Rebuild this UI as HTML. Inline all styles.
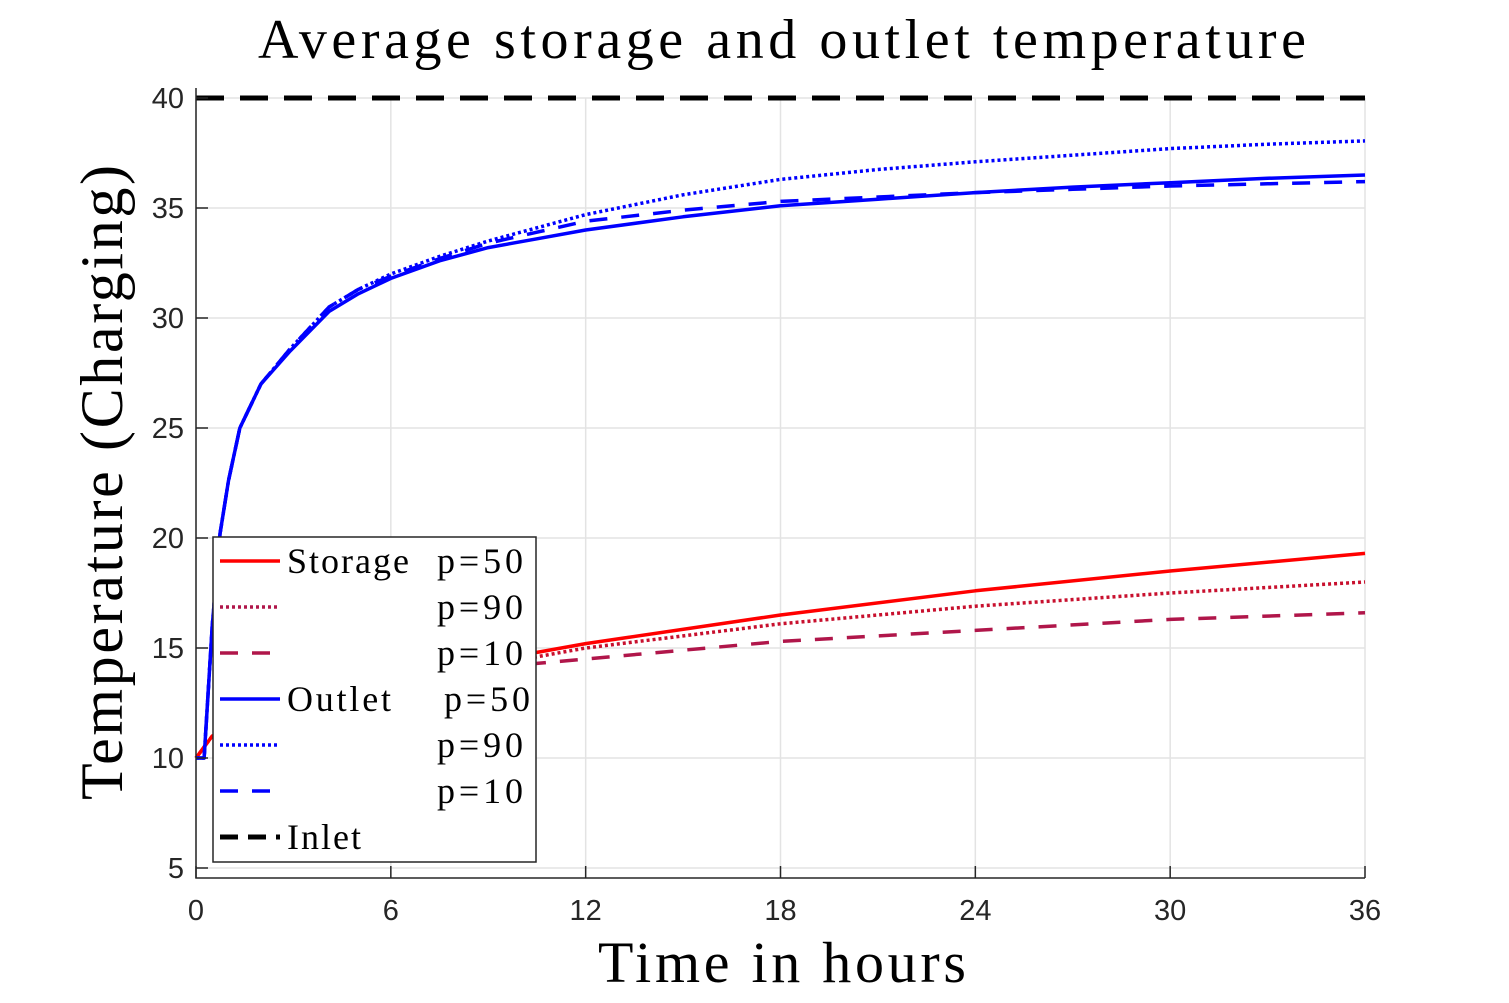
<!DOCTYPE html>
<html><head><meta charset="utf-8"><style>
body{margin:0;background:#fff}
svg{display:block}
.tk{font-family:"Liberation Sans",sans-serif;font-size:29px;fill:#262626}
.sf{font-family:"Liberation Serif",serif;fill:#000}
</style></head><body>
<svg id="chart" width="1509" height="1003">
<g id="grid"></g><g id="series"></g><g id="axes"></g><g id="legend"></g>
<text class="sf" x="258" y="58" font-size="56" textLength="1048" lengthAdjust="spacing">Average storage and outlet temperature</text>
<text class="sf" x="598" y="982" font-size="58" textLength="368" lengthAdjust="spacing">Time in hours</text>
<text class="sf" transform="translate(122,800) rotate(-90)" font-size="60" textLength="635" lengthAdjust="spacing">Temperature (Charging)</text>
</svg>
<script>
const xTicks=[0,6,12,18,24,30,36];
const yTicks=[5,10,15,20,25,30,35,40];
const tOut=[0,0.25,0.5,0.74,1.0,1.35,2,2.9,4.1,5,6,7.5,9,10.5,12,15,18,21,24,27,30,33,36];
const outP50=[10,10,16,20.2,22.6,25.0,27.0,28.5,30.3,31.1,31.8,32.6,33.2,33.6,34.0,34.6,35.1,35.4,35.7,35.95,36.15,36.35,36.5];
const outP90=[10,10,16,20.2,22.6,25.0,27.0,28.6,30.5,31.3,32.0,32.8,33.5,34.1,34.7,35.6,36.3,36.75,37.1,37.4,37.7,37.9,38.05];
const outP10=[10,10,16,20.2,22.6,25.0,27.0,28.6,30.5,31.3,31.9,32.7,33.4,33.9,34.4,34.9,35.3,35.5,35.7,35.85,36.0,36.1,36.2];
const tSto=[0,0.5,2,4,7,10.5,12,18,24,30,36];
const stoP50=[10,11,12,12.9,13.8,14.8,15.2,16.5,17.6,18.5,19.3];
const stoP90=[10,11,12,12.9,13.8,14.6,15.0,16.1,16.9,17.5,18.0];
const stoP10=[10,11,11.9,12.6,13.4,14.3,14.5,15.3,15.8,16.3,16.6];
const inletVal=40;
const X=t=>196+t*(1365-196)/36;
const Y=v=>98+(40-v)*22;
const NS="http://www.w3.org/2000/svg";
function mk(tag,attrs,parent){const e=document.createElementNS(NS,tag);for(const k in attrs)e.setAttribute(k,attrs[k]);parent.appendChild(e);return e;}
const grid=document.getElementById('grid'),axes=document.getElementById('axes'),ser=document.getElementById('series'),leg=document.getElementById('legend');
xTicks.forEach(t=>{
 const l=mk('line',{x1:X(t),x2:X(t),y1:98,y2:878,stroke:'#e3e3e3','stroke-width':1.5},grid);
 
 
 const tk=mk('line',{x1:X(t),x2:X(t),y1:878,y2:866,stroke:'#262626','stroke-width':1.5},axes);
 
 
 const tx=mk('text',{x:X(t),y:920,'text-anchor':'middle',class:'tk'},axes);tx.textContent=t;
 
 
});
yTicks.forEach(v=>{
 const l=mk('line',{x1:196,x2:1365,y1:Y(v),y2:Y(v),stroke:'#e3e3e3','stroke-width':1.5},grid);
 
 
 const tk=mk('line',{x1:196,x2:208,y1:Y(v),y2:Y(v),stroke:'#262626','stroke-width':1.5},axes);
 
 
 const tx=mk('text',{x:184,y:Y(v)+10,'text-anchor':'end',class:'tk'},axes);tx.textContent=v;
 
 
});
const ax=mk('path',{d:'M196,88 V878 H1365',fill:'none',stroke:'#262626','stroke-width':1.5},axes);


function line(ts,vs,col,dash,name,w){
 const p=mk('polyline',{points:ts.map((t,i)=>X(t)+','+Y(vs[i])).join(' '),fill:'none',stroke:col,'stroke-width':w||3.5,'stroke-dasharray':dash||'none','stroke-linejoin':'round'},ser);
 
 
}
line(tSto,stoP90,'#c8102e','3 3','storage-p90-line');
line(tSto,stoP10,'#b0164a','18 14','storage-p10-line');
line(tSto,stoP50,'#ff0000','','storage-p50-line');
line(tOut,outP90,'#0000ff','3 3','outlet-p90-line');
line(tOut,outP10,'#0000ff','18 14','outlet-p10-line');
line(tOut,outP50,'#0000ff','','outlet-p50-line');
line([0,36],[inletVal,inletVal],'#000','28 16','inlet-line',5);
const box=mk('rect',{x:213,y:537,width:323,height:325,fill:'#fff',stroke:'#262626','stroke-width':1.5},leg);


const items=[['#ff0000','','Storage','p=50',122],['#b0164a','3 3','','p=90'],['#b0164a','18 14','','p=10'],['#0000ff','','Outlet',' p=50',104],['#0000ff','3 3','','p=90'],['#0000ff','18 14','','p=10'],['#000','18 10','Inlet','',74]];
items.forEach((it,i)=>{
 const y=561+i*46;
 const l=mk('line',{x1:220,x2:280,y1:y,y2:y,stroke:it[0],'stroke-width':it[0]=='#000'?5:3.5,'stroke-dasharray':it[1]||'none'},leg);
 
 
 if(it[2]){
 const t=mk('text',{x:287,y:y+12,class:'sf','font-size':36,textLength:it[4],lengthAdjust:'spacing'},leg);t.textContent=it[2];
 
 
 }
 if(it[3]){
 const p=mk('text',{x:it[3].startsWith(' ')?444:437,y:y+12,class:'sf','font-size':36,textLength:86,lengthAdjust:'spacing'},leg);p.textContent=it[3].trim();
 
 
 }
});
</script>
</body></html>
